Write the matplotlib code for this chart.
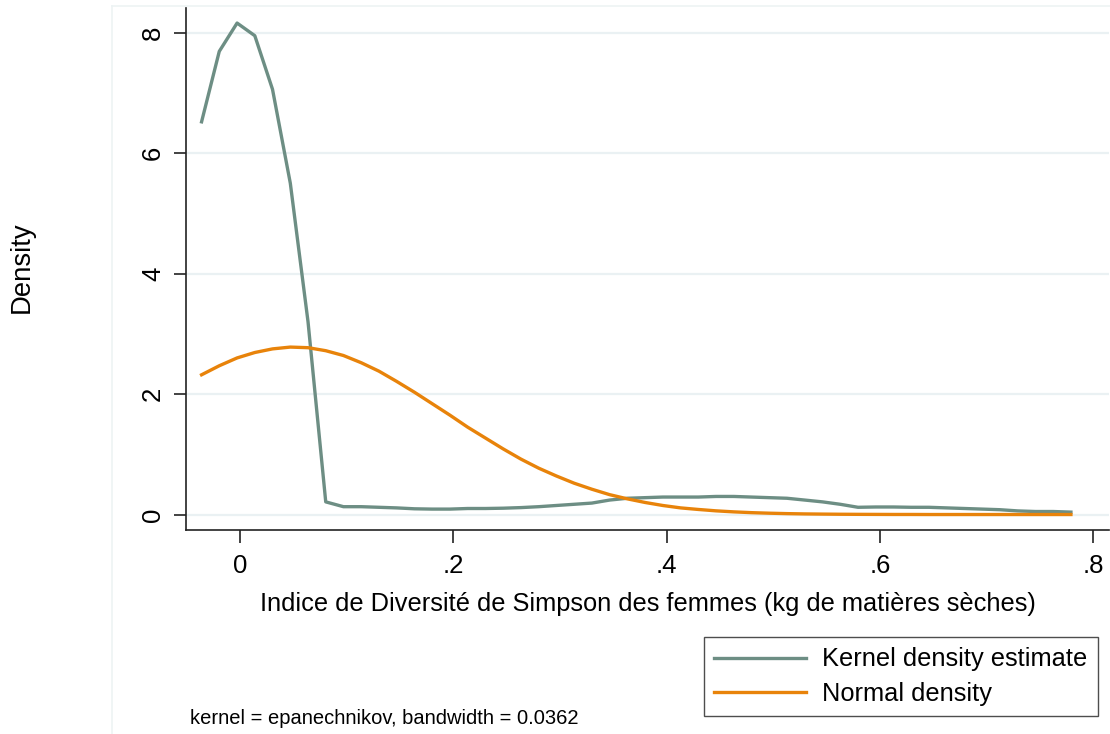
import matplotlib
matplotlib.use('Agg')
import matplotlib.pyplot as plt
from matplotlib.lines import Line2D

plt.rcParams['font.family'] = ['Liberation Sans', 'DejaVu Sans']

# Evaluation points (50 points, as in Stata kdensity)
x_points = [-0.0360, -0.0194, -0.0027, 0.0139, 0.0305, 0.0472, 0.0638, 0.0804, 0.0970, 0.1137,
            0.1303, 0.1469, 0.1636, 0.1802, 0.1968, 0.2135, 0.2301, 0.2467, 0.2634, 0.2800,
            0.2966, 0.3133, 0.3299, 0.3465, 0.3632, 0.3798, 0.3964, 0.4131, 0.4297, 0.4463,
            0.4630, 0.4796, 0.4962, 0.5128, 0.5295, 0.5461, 0.5627, 0.5794, 0.5960, 0.6126,
            0.6293, 0.6459, 0.6625, 0.6792, 0.6958, 0.7124, 0.7291, 0.7457, 0.7623, 0.7790]

# Kernel density estimate
kde_values = [6.52, 7.69, 8.16, 7.95, 7.06, 5.50, 3.20, 0.21, 0.13, 0.13,
              0.12, 0.11, 0.095, 0.09, 0.09, 0.10, 0.10, 0.105, 0.115, 0.13,
              0.15, 0.17, 0.19, 0.24, 0.27, 0.28, 0.29, 0.29, 0.29, 0.30,
              0.30, 0.29, 0.28, 0.27, 0.24, 0.21, 0.17, 0.12, 0.125, 0.125,
              0.12, 0.12, 0.11, 0.10, 0.09, 0.08, 0.06, 0.05, 0.05, 0.04]

# Normal density
normal_values = [2.32, 2.47, 2.60, 2.69, 2.75, 2.78, 2.77, 2.72, 2.64, 2.52,
                 2.38, 2.21, 2.03, 1.84, 1.65, 1.45, 1.27, 1.09, 0.92, 0.77,
                 0.64, 0.52, 0.42, 0.33, 0.26, 0.20, 0.15, 0.11, 0.084, 0.061,
                 0.044, 0.031, 0.022, 0.015, 0.010, 0.007, 0.0045, 0.003, 0.002, 0.001,
                 0.001, 0.0, 0.0, 0.0, 0.0, 0.0, 0.0, 0.0, 0.0, 0.0]

x_ticks = [0, 0.2, 0.4, 0.6, 0.8]
x_tick_labels = ['0', '.2', '.4', '.6', '.8']
y_ticks = [0, 2, 4, 6, 8]

kde_color = '#6d8e84'
normal_color = '#e8830a'
grid_color = '#eaf1f3'

fig = plt.figure(figsize=(11.1, 7.34), dpi=100)
ax = fig.add_axes([186 / 1110, 1 - 530 / 734, (1109 - 186) / 1110, (530 - 8) / 734])

ax.plot(x_points, kde_values, color=kde_color, linewidth=2.4, zorder=3)
ax.plot(x_points, normal_values, color=normal_color, linewidth=2.4, zorder=3)

ax.set_xlim(-0.0506, 0.8147)
ax.set_ylim(-0.257, 8.41)

ax.set_xticks(x_ticks)
ax.set_xticklabels(x_tick_labels)
ax.set_yticks(y_ticks)
ax.set_yticklabels([str(v) for v in y_ticks], rotation=90, va='center')

ax.tick_params(axis='both', labelsize=18.5, length=9, width=1.2, color='#222222')
ax.tick_params(axis='x', pad=8)
ax.tick_params(axis='y', pad=6)

ax.grid(True, axis='y', color=grid_color, linewidth=1.6, zorder=0)
ax.set_axisbelow(True)

for side in ['top', 'right']:
    ax.spines[side].set_visible(False)
for side in ['left', 'bottom']:
    ax.spines[side].set_linewidth(1.2)
    ax.spines[side].set_color('#222222')

ax.set_xlabel('Indice de Diversité de Simpson des femmes (kg de matières sèches)', fontsize=18.3, labelpad=10)
fig.text(22 / 1110, 1 - 267 / 734, 'Density', rotation=90, fontsize=19.8, ha='center', va='center')

# Faint outer plot-region border
fig.add_artist(Line2D([112 / 1110, 112 / 1110], [0, 1 - 6 / 734], color='#edf3f4', linewidth=1.2))
fig.add_artist(Line2D([112 / 1110, 1], [1 - 6 / 734, 1 - 6 / 734], color='#edf3f4', linewidth=1.2))

handles = [Line2D([], [], color=kde_color, linewidth=2.4),
           Line2D([], [], color=normal_color, linewidth=2.4)]
leg = fig.legend(handles, ['Kernel density estimate', 'Normal density'],
                 loc='center', bbox_to_anchor=(901 / 1110, 1 - 676.5 / 734),
                 fontsize=18.3, frameon=True, fancybox=False, handlelength=3.6,
                 handletextpad=0.65, borderpad=0.4, labelspacing=0.4, borderaxespad=0)
leg.get_frame().set_edgecolor('#222222')
leg.get_frame().set_linewidth(1.0)

fig.text(190 / 1110, 1 - 718 / 734, 'kernel = epanechnikov, bandwidth = 0.0362', fontsize=14.5,
         ha='left', va='center')

fig.savefig('out.png', dpi=100)
